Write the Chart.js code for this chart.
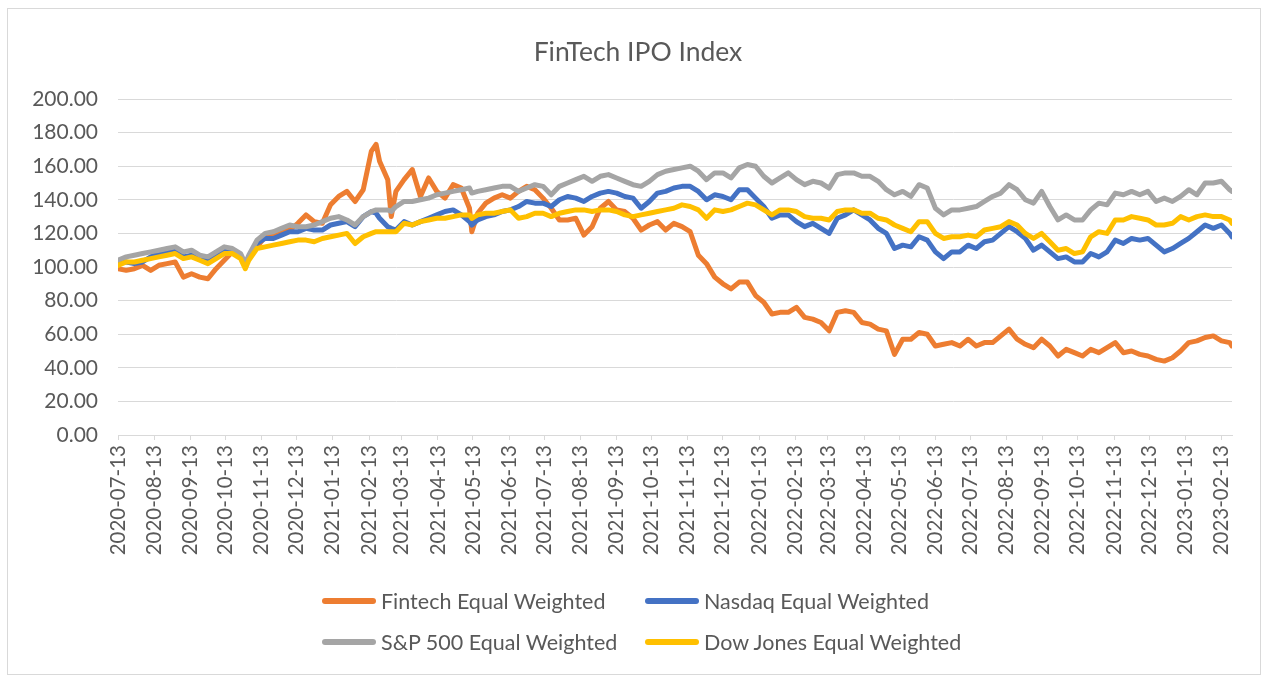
<!DOCTYPE html>
<html>
<head>
<meta charset="utf-8">
<script src="https://cdn.jsdelivr.net/npm/chart.js@4.4.0/dist/chart.umd.min.js"></script>
<style>
  html, body { margin: 0; padding: 0; background: #fff; }
  #wrap { position: relative; width: 1272px; height: 687px; overflow: hidden; font-family: Lato, "Open Sans", sans-serif; }
  #c { position: absolute; left: 0; top: 0; }
  #frame { position: absolute; left: 7px; top: 8px; width: 1254px; height: 667px; border: 1px solid #d9d9d9; box-sizing: border-box; pointer-events: none; }
  #title { position: absolute; left: 438px; width: 400px; top: 35px; height: 32px; line-height: 32px; text-align: center; color: #595959; font-size: 26.5px; white-space: nowrap; }
  .lg { position: absolute; height: 28px; display: flex; align-items: center; color: #595959; font-size: 21.5px; white-space: nowrap; }
  .lg .sw { width: 54px; height: 6px; border-radius: 3px; margin-right: 5px; }
</style>
</head>
<body>
<div id="wrap">
  <canvas id="c" width="1272" height="687"></canvas>
  <div id="frame"></div>
  <div id="title"></div>
  <div id="legend"></div>
</div>
<script>
const title = "FinTech IPO Index";
const seriesNames = ["Fintech Equal Weighted", "Nasdaq Equal Weighted", "S&P 500 Equal Weighted", "Dow Jones Equal Weighted"];
const seriesColors = ["#ED7D31", "#4472C4", "#A5A5A5", "#FFC000"];

const tickLabels = ["2020-07-13","2020-08-13","2020-09-13","2020-10-13","2020-11-13","2020-12-13",
  "2021-01-13","2021-02-13","2021-03-13","2021-04-13","2021-05-13","2021-06-13","2021-07-13","2021-08-13",
  "2021-09-13","2021-10-13","2021-11-13","2021-12-13","2022-01-13","2022-02-13","2022-03-13","2022-04-13",
  "2022-05-13","2022-06-13","2022-07-13","2022-08-13","2022-09-13","2022-10-13","2022-11-13","2022-12-13",
  "2023-01-13","2023-02-13"];

const dates = [
  "2020-07-13","2020-07-20","2020-07-27","2020-08-03","2020-08-10","2020-08-17","2020-08-24","2020-08-31",
  "2020-09-07","2020-09-14","2020-09-21","2020-09-28","2020-10-05","2020-10-12","2020-10-19","2020-10-26",
  "2020-10-30",
  "2020-11-02","2020-11-09","2020-11-16","2020-11-23","2020-11-30","2020-12-07","2020-12-14","2020-12-21",
  "2020-12-28","2021-01-04","2021-01-11","2021-01-18","2021-01-25","2021-02-01","2021-02-08","2021-02-15",
  "2021-02-19",
  "2021-02-22","2021-03-01",
  "2021-03-04",
  "2021-03-08","2021-03-15","2021-03-22","2021-03-29","2021-04-05","2021-04-12","2021-04-19","2021-04-26",
  "2021-05-03","2021-05-10",
  "2021-05-12",
  "2021-05-17","2021-05-24","2021-05-31","2021-06-07","2021-06-14","2021-06-21","2021-06-28","2021-07-05",
  "2021-07-12","2021-07-19","2021-07-26","2021-08-02","2021-08-09","2021-08-16","2021-08-23","2021-08-30",
  "2021-09-06","2021-09-13","2021-09-20","2021-09-27","2021-10-04","2021-10-11","2021-10-18","2021-10-25",
  "2021-11-01",
  "2021-11-08","2021-11-15","2021-11-22","2021-11-29","2021-12-06","2021-12-13","2021-12-20","2021-12-27",
  "2022-01-03","2022-01-10","2022-01-17","2022-01-24","2022-01-31","2022-02-07","2022-02-14","2022-02-21",
  "2022-02-28",
  "2022-03-07","2022-03-14","2022-03-21","2022-03-28","2022-04-04","2022-04-11","2022-04-18","2022-04-25",
  "2022-05-02","2022-05-09","2022-05-16","2022-05-23","2022-05-30","2022-06-06","2022-06-13","2022-06-20",
  "2022-06-27",
  "2022-07-04","2022-07-11","2022-07-18","2022-07-25","2022-08-01","2022-08-08","2022-08-15","2022-08-22",
  "2022-08-29","2022-09-05","2022-09-12","2022-09-19","2022-09-26","2022-10-03","2022-10-10","2022-10-17",
  "2022-10-24",
  "2022-10-31","2022-11-07","2022-11-14","2022-11-21","2022-11-28","2022-12-05","2022-12-12","2022-12-19",
  "2022-12-26","2023-01-02","2023-01-09","2023-01-16","2023-01-23","2023-01-30","2023-02-06","2023-02-13",
  "2023-02-20",
  "2023-02-22"
];

const fintech = [
  99,98,99,101,98,101,102,103,94,96,94,93,99,104,109,106,
  101,
  106,112,118,119,121,122,126,131,127,126,137,142,145,139,146,169,
  173,
  163,152,
  130,
  145,152,158,142,153,145,141,149,147,135,
  121,
  132,138,141,143,141,145,148,146,
  141,135,128,128,129,119,124,135,139,134,133,129,122,125,127,122,126,
  124,121,107,102,94,90,87,91,91,83,79,72,73,73,76,70,69,
  67,62,73,74,73,67,66,63,62,48,57,57,61,60,53,54,55,
  53,57,53,55,55,59,63,57,54,52,57,53,47,51,49,47,51,
  49,52,55,49,50,48,47,45,44,46,50,55,56,58,59,56,55,
  53
];

const nasdaq = [
  103,103,102,103,106,108,109,111,106,107,106,104,107,110,110,107,
  101,
  106,114,117,117,119,121,121,123,122,122,125,126,127,124,130,133,
  132,
  129,124,
  123,
  122,127,125,127,129,131,133,134,131,127,
  125,
  128,130,131,133,134,136,139,138,
  138,136,140,142,141,139,142,144,145,144,142,141,135,139,144,145,147,
  148,148,145,140,143,142,140,146,146,141,136,129,131,131,127,124,126,
  123,120,129,131,134,131,128,123,120,111,113,112,118,116,109,105,109,
  109,113,111,115,116,120,124,121,117,110,113,109,105,106,103,103,108,
  106,109,116,114,117,116,117,113,109,111,114,117,121,125,123,125,120,
  118
];

const sp500 = [
  104,106,107,108,109,110,111,112,109,110,107,106,109,112,111,108,
  102,
  107,116,120,121,123,125,124,124,125,127,129,130,128,125,130,133,
  134,
  134,134,
  133,
  136,139,139,140,141,143,144,145,146,147,
  144,
  145,146,147,148,148,145,147,149,
  148,143,148,150,152,154,151,154,155,153,151,149,148,151,155,157,158,
  159,160,157,152,156,156,153,159,161,160,154,150,153,156,152,149,151,
  150,147,155,156,156,154,154,151,146,143,145,142,149,147,135,131,134,
  134,135,136,139,142,144,149,146,140,138,145,136,128,131,128,128,134,
  138,137,144,143,145,143,145,139,141,139,142,146,143,150,150,151,146,
  145
];

const dow = [
  101,103,103,104,105,106,107,108,105,106,104,102,105,108,108,105,
  99,
  104,111,112,113,114,115,116,116,115,117,118,119,120,114,118,120,
  121,
  121,121,
  121,
  121,126,125,127,128,129,129,130,131,131,
  129,
  131,132,132,133,134,129,130,132,
  132,130,132,133,134,134,133,134,134,133,131,130,131,132,133,134,135,
  137,136,134,129,134,133,134,136,138,137,134,131,134,134,133,130,129,
  129,128,133,134,134,132,132,129,128,125,123,121,127,127,120,117,118,
  118,119,118,122,123,124,127,125,120,117,120,115,110,111,108,109,118,
  121,120,128,128,130,129,128,125,125,126,130,128,130,131,130,130,128,
  126
];

const yTicks = [0, 20, 40, 60, 80, 100, 120, 140, 160, 180, 200];

// ---- helpers ----
const base = Date.parse(dates[0] + "T00:00:00Z");
const dayNum = s => Math.round((Date.parse(s + "T00:00:00Z") - base) / 86400000);
const xs = dates.map(dayNum);
const tickMap = new Map(tickLabels.map(t => [dayNum(t), t]));
const allSeries = [fintech, nasdaq, sp500, dow];

const datasets = allSeries.map((vals, i) => ({
  label: seriesNames[i],
  data: vals.map((v, j) => ({ x: xs[j], y: v })),
  borderColor: seriesColors[i],
  backgroundColor: seriesColors[i],
  borderWidth: 5,
  pointRadius: 0,
  pointHoverRadius: 0,
  tension: 0,
  borderJoinStyle: 'round',
  borderCapStyle: 'round',
  fill: false,
  order: 4 - i
}));

const FONT = "Lato, 'Open Sans', sans-serif";

document.getElementById('title').textContent = title;

new Chart(document.getElementById('c'), {
  type: 'line',
  data: { datasets },
  options: {
    responsive: false,
    animation: false,
    events: [],
    layout: { padding: { left: 10, right: 40, top: 99, bottom: 122 } },
    plugins: {
      legend: { display: false },
      tooltip: { enabled: false },
      title: { display: false }
    },
    scales: {
      x: {
        type: 'linear',
        min: xs[0],
        max: xs[xs.length - 1],
        afterBuildTicks: s => { s.ticks = tickLabels.map(t => ({ value: dayNum(t) })); },
        afterFit: s => { s.height = 130; },
        grid: { drawOnChartArea: false, drawTicks: true, tickLength: 5, color: '#d9d9d9', lineWidth: 1 },
        border: { display: true, color: '#d9d9d9', width: 1 },
        ticks: {
          autoSkip: false,
          minRotation: 90,
          maxRotation: 90,
          padding: 5,
          color: '#595959',
          font: { family: FONT, size: 20.5 },
          callback: v => tickMap.get(Math.round(v)) || ''
        }
      },
      y: {
        min: 0,
        max: 200,
        afterBuildTicks: s => { s.ticks = yTicks.map(v => ({ value: v })); },
        afterFit: s => { s.width = 108; },
        grid: { color: '#d9d9d9', lineWidth: 1, drawTicks: false },
        border: { display: false },
        ticks: {
          padding: 20,
          color: '#595959',
          font: { family: FONT, size: 21 },
          callback: v => Number(v).toFixed(2)
        }
      }
    }
  }
});

// HTML legend, 2 x 2 grid
const legendPos = [
  { left: 322, top: 587 }, { left: 645, top: 587 },
  { left: 322, top: 628 }, { left: 645, top: 628 }
];
const lg = document.getElementById('legend');
seriesNames.forEach((name, i) => {
  const d = document.createElement('div');
  d.className = 'lg';
  d.style.left = legendPos[i].left + 'px';
  d.style.top = legendPos[i].top + 'px';
  const sw = document.createElement('span');
  sw.className = 'sw';
  sw.style.background = seriesColors[i];
  const tx = document.createElement('span');
  tx.textContent = name;
  d.appendChild(sw);
  d.appendChild(tx);
  lg.appendChild(d);
});
</script>
</body>
</html>
